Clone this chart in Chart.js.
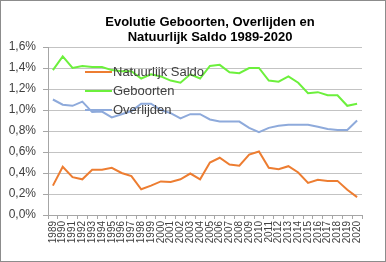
<!DOCTYPE html>
<html>
<head>
<meta charset="utf-8">
<script src="https://cdn.jsdelivr.net/npm/chart.js@4.4.0/dist/chart.umd.min.js"></script>
<style>
    html, body { margin: 0; padding: 0; background: #fff; }
    #wrap {
        width: 386px;
        height: 262px;
        box-sizing: border-box;
        border: 1px solid #8c8c8c;
        position: relative;
    }
</style>
</head>
<body>
<div id="wrap"><canvas id="saldoChart"></canvas></div>
<script>
const jaren = ['1989','1990','1991','1992','1993','1994','1995','1996','1997','1998','1999',
    '2000','2001','2002','2003','2004','2005','2006','2007','2008','2009','2010',
    '2011','2012','2013','2014','2015','2016','2017','2018','2019','2020'];

const natuurlijkSaldo = [0.28, 0.46, 0.36, 0.34, 0.43, 0.43, 0.45, 0.40, 0.37, 0.245, 0.28,
    0.32, 0.315, 0.34, 0.395, 0.34, 0.50, 0.545, 0.48, 0.47, 0.575, 0.605,
    0.45, 0.435, 0.465, 0.405, 0.305, 0.335, 0.325, 0.325, 0.24, 0.17];

const geboorten = [1.38, 1.51, 1.40, 1.42, 1.41, 1.41, 1.38, 1.37, 1.37, 1.30, 1.34,
    1.32, 1.28, 1.26, 1.34, 1.30, 1.42, 1.43, 1.36, 1.35, 1.40, 1.40,
    1.28, 1.27, 1.32, 1.26, 1.16, 1.17, 1.14, 1.14, 1.04, 1.06];

const overlijden = [1.10, 1.05, 1.04, 1.08, 0.98, 0.985, 0.93, 0.96, 0.99, 1.06, 1.06,
    1.00, 0.97, 0.92, 0.96, 0.96, 0.91, 0.89, 0.89, 0.89, 0.83, 0.79,
    0.83, 0.85, 0.86, 0.86, 0.86, 0.84, 0.82, 0.81, 0.81, 0.90];

const titelRegels = ['Evolutie Geboorten, Overlijden en', 'Natuurlijk Saldo 1989-2020'];

const KLEUREN = {
    oranje: '#ED7D31',
    groen: '#6CF03C',
    blauw: '#8EAADB',
    tekst: '#404040',
    grid: '#c3c3c3',
    as: '#a6a6a6'
};

const FONT = '"Liberation Sans", Arial, sans-serif';

// titel boven de grafiek
const titelPlugin = {
    id: 'titel',
    afterDraw(chart) {
        const ctx = chart.ctx;
        ctx.save();
        ctx.font = 'bold 13px ' + FONT;
        ctx.fillStyle = '#000';
        ctx.textAlign = 'center';
        ctx.textBaseline = 'middle';
        ctx.fillText(titelRegels[0], 209, 21);
        ctx.fillText(titelRegels[1], 209, 36);
        ctx.restore();
    }
};

// legenda binnen het plotgebied
const legendaPlugin = {
    id: 'legendaBinnen',
    afterDatasetsDraw(chart) {
        const ctx = chart.ctx;
        ctx.save();
        ctx.font = '13px ' + FONT;
        ctx.textBaseline = 'middle';
        chart.data.datasets.forEach((ds, i) => {
            const y = 71 + i * 19;
            ctx.strokeStyle = ds.borderColor;
            ctx.lineWidth = 2;
            ctx.beginPath();
            ctx.moveTo(84, y);
            ctx.lineTo(111, y);
            ctx.stroke();
            ctx.fillStyle = KLEUREN.tekst;
            ctx.fillText(ds.label, 112, y);
        });
        ctx.restore();
    }
};

const ctx = document.getElementById('saldoChart').getContext('2d');
new Chart(ctx, {
    type: 'line',
    data: {
        labels: jaren,
        datasets: [{
            label: 'Natuurlijk Saldo',
            data: natuurlijkSaldo,
            borderColor: KLEUREN.oranje,
            backgroundColor: KLEUREN.oranje,
            borderWidth: 2,
            pointRadius: 0,
            tension: 0
        },
        {
            label: 'Geboorten',
            data: geboorten,
            borderColor: KLEUREN.groen,
            backgroundColor: KLEUREN.groen,
            borderWidth: 2,
            pointRadius: 0,
            tension: 0
        },
        {
            label: 'Overlijden',
            data: overlijden,
            borderColor: KLEUREN.blauw,
            backgroundColor: KLEUREN.blauw,
            borderWidth: 2,
            pointRadius: 0,
            tension: 0
        }]
    },
    options: {
        responsive: true,
        maintainAspectRatio: false,
        animation: false,
        layout: { padding: { top: 46, right: 23, left: 0, bottom: 0 } },
        plugins: {
            legend: { display: false },
            title: { display: false },
            tooltip: { enabled: false }
        },
        scales: {
            x: {
                offset: true,
                grid: {
                    offset: true,
                    drawOnChartArea: false,
                    drawTicks: true,
                    tickLength: 4,
                    color: KLEUREN.as
                },
                border: { color: KLEUREN.as, width: 1 },
                ticks: {
                    autoSkip: false,
                    maxRotation: 90,
                    minRotation: 90,
                    padding: 2,
                    color: KLEUREN.tekst,
                    font: { family: FONT, size: 10 }
                },
                afterFit: scale => { scale.height = 46; }
            },
            y: {
                min: 0,
                max: 1.6,
                grid: {
                    color: KLEUREN.grid,
                    tickColor: KLEUREN.as,
                    tickLength: 5,
                    lineWidth: 1
                },
                border: { color: KLEUREN.as, width: 1 },
                ticks: {
                    stepSize: 0.2,
                    padding: 7,
                    color: KLEUREN.tekst,
                    font: { family: FONT, size: 12 },
                    callback: v => v.toFixed(1).replace('.', ',') + '%'
                },
                afterFit: scale => { scale.width = 47; }
            }
        }
    },
    plugins: [titelPlugin, legendaPlugin]
});
</script>
</body>
</html>
